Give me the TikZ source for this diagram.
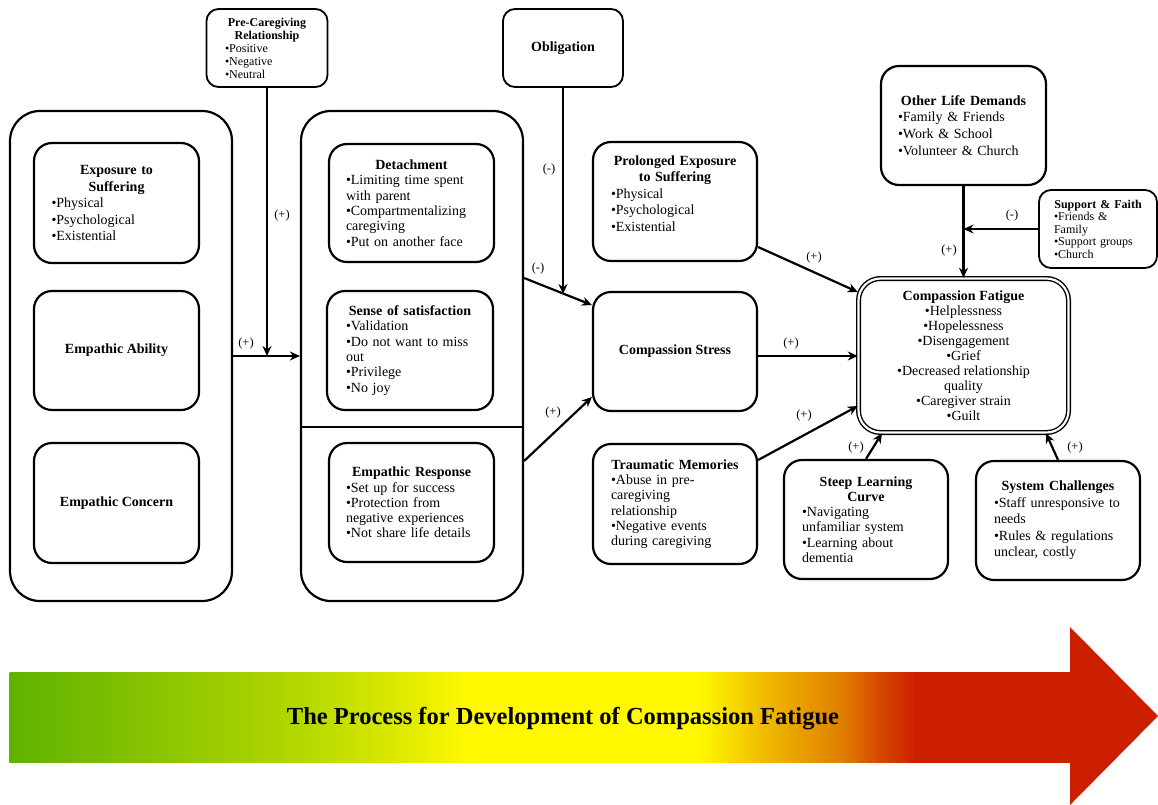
\documentclass[tikz,border=0pt]{standalone}
\usepackage{fontspec}
\setmainfont{Liberation Serif}
\usetikzlibrary{arrows.meta}

% text helpers
\newcommand{\hd}[1]{{\centering\bfseries #1\par}}
\newcommand{\bodyfont}{\fontsize{14}{15.3}\selectfont}
\newcommand{\loosefont}{\fontsize{14}{16.5}\selectfont}
\newcommand{\smallfont}{\fontsize{12}{13}\selectfont}
\newcommand{\signfont}{\fontsize{12.5}{14}\selectfont}

% colours of the process bar
\definecolor{pg0}{RGB}{95,178,0}
\definecolor{pg1}{RGB}{125,190,0}
\definecolor{pg2}{RGB}{180,215,0}
\definecolor{pg3}{RGB}{225,235,0}
\definecolor{pyl}{RGB}{255,248,0}
\definecolor{po1}{RGB}{240,190,0}
\definecolor{po2}{RGB}{224,128,0}
\definecolor{po3}{RGB}{214,72,0}
\definecolor{prd}{RGB}{204,31,0}

\begin{document}
\begin{tikzpicture}[x=1pt,y=-1pt,
  frame/.style={draw, line width=2.2pt, rounded corners=30pt, inner sep=0pt},
  card/.style={draw, line width=2.2pt, rounded corners=18pt, align=left,
    font=\bodyfont, inner sep=0pt, minimum width=165, minimum height=120},
  plaincard/.style={card, align=center},
  tag/.style={draw, line width=1.8pt, rounded corners=12pt, align=left,
    font=\smallfont, inner sep=0pt},
  link/.style={line width=2.2pt, -{Stealth[length=10pt,width=9pt]}},
  sign/.style={font=\signfont, inner sep=1pt}]

\useasboundingbox (0,0) rectangle (1158,804);

% ---- stage 1: empathy ------------------------------------------------
\node[frame, minimum width=222, minimum height=490] (left) at (121,356) {};
\node[card, text width=130, font=\loosefont] (es) at (116.5,203)
  {\hd{Exposure to\\Suffering}•Physical\\•Psychological\\•Existential};
\node[plaincard, minimum height=119] (ea) at (116.5,350.5) {\bfseries Empathic Ability};
\node[plaincard] (ec) at (116.5,503) {\bfseries Empathic Concern};

% ---- stage 2: coping -------------------------------------------------
\node[frame, minimum width=222, minimum height=490] (mid) at (412,356) {};
\draw[line width=2.2pt] (mid.west |- 0,427) -- (mid.east |- 0,427);
\node[card, minimum height=118, text width=131] (det) at (411.5,203)
  {\hd{Detachment}•Limiting time spent\\with parent\\•Compartmentalizing\\caregiving\\•Put on another face};
\node[card, minimum width=166, minimum height=119, text width=128] (sat) at (410,350.5)
  {\hd{Sense of satisfaction}•Validation\\•Do not want to miss\\out\\•Privilege\\•No joy};
\node[card, minimum height=119, text width=131] (er) at (411.5,502.5)
  {\hd{Empathic Response}•Set up for success\\•Protection from\\negative experiences\\•Not share life details};

% ---- moderators at the top ------------------------------------------
\node[tag, minimum width=121, minimum height=78, text width=84] (pc) at (267,48)
  {\hd{Pre-Caregiving\\Relationship}•Positive\\•Negative\\•Neutral};
\node[tag, minimum width=120, minimum height=78, align=center, font=\bodyfont] (ob) at (563,48)
  {\bfseries Obligation};

% ---- stage 3 ---------------------------------------------------------
\node[card, minimum width=164, minimum height=119, text width=128, font=\loosefont] (pes) at (675,201.5)
  {\hd{Prolonged Exposure\\to Suffering}•Physical\\•Psychological\\•Existential\par\rule{0pt}{14pt}};
\node[plaincard, minimum width=164, minimum height=119] (cs) at (675,351.5)
  {\bfseries Compassion Stress};
\node[card, minimum width=164, text width=128] (tm) at (675,504)
  {\hd{Traumatic Memories}•Abuse in pre-\\caregiving\\relationship\\•Negative events\\during caregiving};

% ---- outcome ---------------------------------------------------------
\node[draw, line width=1.4pt, double=white, double distance=2.2pt,
  rounded corners=22pt, minimum width=210, minimum height=154, align=center,
  font=\fontsize{14}{15}\selectfont, inner sep=0pt] (cf) at (963.5,355.5)
  {\textbf{Compassion Fatigue}\\•Helplessness\\•Hopelessness\\•Disengagement\\•Grief\\
   •Decreased relationship\\quality\\•Caregiver strain\\•Guilt};
\node[card, minimum height=119, text width=131,
  font=\fontsize{14}{16.7}\selectfont] (old) at (963.5,125.5)
  {\hd{Other Life Demands}•Family \& Friends\\•Work \& School\\•Volunteer \& Church};
\node[tag, minimum width=118, minimum height=78, text width=88,
  font=\fontsize{12}{12.5}\selectfont] (sf) at (1098,229)
  {{\centering\bfseries\fontsize{12}{13.5}\selectfont Support \& Faith\par}•Friends \&\\Family\\•Support groups\\•Church};
\node[card, minimum width=164, minimum height=119, text width=128] (slc) at (866,519.5)
  {\hd{Steep Learning\\Curve}•Navigating\\unfamiliar system\\•Learning about\\dementia};
\node[card, minimum width=164, minimum height=119, text width=128, font=\loosefont] (sc) at (1058,520.5)
  {\hd{System Challenges}•Staff unresponsive to\\needs\\•Rules \& regulations\\unclear, costly};

% ---- connectors ------------------------------------------------------
\draw[link] (left.east) -- (mid.west);
\coordinate (j1) at (pc.south |- left.east);
\draw[link] (pc.south) -- (j1);

\coordinate (m1) at (mid.east |- 0,278);
\coordinate (c1) at (cs.west |- 0,305);
\draw[link] (m1) -- (c1);
\coordinate (j2) at (ob.south |- 0,294);
\draw[link] (ob.south) -- (j2);
\draw[link] (mid.east |- 0,461) -- (cs.west |- 0,397);

\draw[link] (pes.east |- 0,247) -- (cf.west |- 0,292);
\draw[link] (cs.east |- 0,356) -- (cf.west |- 0,356);
\draw[link] (tm.east |- 0,460) -- (cf.west |- 0,406);
\draw[link] (old.south) -- (cf.north);
\coordinate (j3) at (old.south |- sf.west);
\draw[link] (sf.west) -- (j3);
\draw[link] (slc.north) -- (cf.south -| 882,0);
\draw[link] (sc.north) -- (cf.south -| 1046,0);

% ---- signs on the connectors -----------------------------------------
\node[sign] (s1) at (246,343) {(+)};
\node[sign] (s2) at (282,215) {(+)};
\node[sign] (s3) at (549,169) {(-)};
\node[sign] (s4) at (538,268) {(-)};
\node[sign] (s5) at (553,412) {(+)};
\node[sign] (s6) at (814,257) {(+)};
\node[sign] (s7) at (791,343) {(+)};
\node[sign] (s8) at (804,415) {(+)};
\node[sign] (s9) at (949,250) {(+)};
\node[sign] (s10) at (1012,215) {(-)};
\node[sign] (s11) at (856,447) {(+)};
\node[sign] (s12) at (1075,447) {(+)};

% ---- process bar -----------------------------------------------------
\foreach \xa/\xb/\ca/\cb in {10/110/pg0/pg1, 110/300/pg1/pg2, 300/410/pg2/pg3,
    410/467/pg3/pyl, 467/700/pyl/pyl, 700/760/pyl/po1, 760/840/po1/po2,
    840/880/po2/po3, 880/915/po3/prd, 915/1071/prd/prd}
  \shade[left color=\ca, right color=\cb] (\xa-0.4,672) rectangle (\xb+0.4,762);
\fill[prd] (1070,627) -- (1158,716) -- (1070,805) -- cycle;
\node[font=\fontsize{24.5}{28}\selectfont\bfseries] (title) at (563,719)
  {The Process for Development of Compassion Fatigue};

\end{tikzpicture}
\end{document}
